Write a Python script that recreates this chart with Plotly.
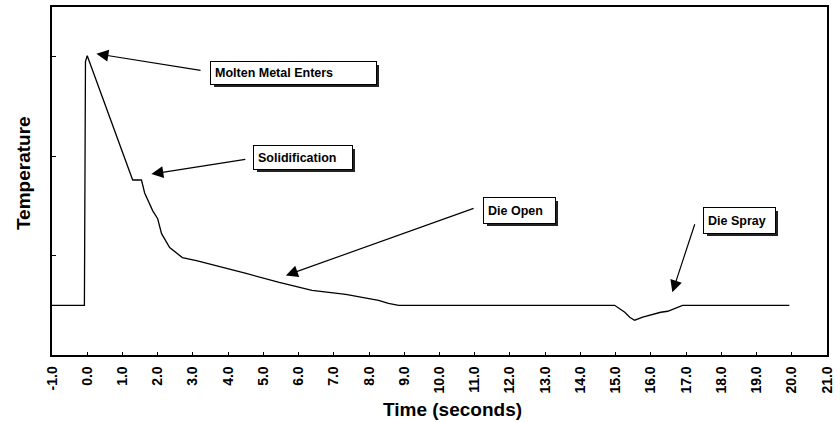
import glob
import plotly.graph_objects as go

# ---- data ----
time_s = [-1.0, -0.08, -0.05, 0.0, 1.29, 1.54, 1.63, 1.78, 1.86, 2.0, 2.11, 2.34, 2.70, 3.10,
          3.67, 4.51, 5.45, 6.38, 7.34, 8.27, 8.55, 8.84, 14.97, 15.26, 15.4, 15.54, 15.77,
          16.28, 16.48, 16.9, 19.93]
temperature = [0.5, 0.5, 2.95, 3.01, 1.76, 1.76, 1.63, 1.52, 1.45, 1.37, 1.22, 1.08, 0.98, 0.95,
               0.90, 0.82, 0.73, 0.65, 0.61, 0.55, 0.52, 0.50, 0.50, 0.43, 0.38, 0.35, 0.38,
               0.43, 0.44, 0.50, 0.50]

x_ticks = [-1.0 + i for i in range(23)]
y_ticks = [0, 1, 2, 3]

labels = ["Molten Metal Enters", "Solidification", "Die Open", "Die Spray"]
head_x = [0.26, 1.82, 5.64, 16.61]
head_y = [3.03, 1.82, 0.80, 0.63]
tail_x = [3.26, 4.53, 11.01, 17.26]
tail_y = [2.86, 1.97, 1.48, 1.33]
box_x = [5.85, 6.12, 12.27, 18.52]
box_y = [2.84, 1.985, 1.455, 1.355]
box_w = [165, 98, 71, 71]
box_h = [22, 23, 25, 25]

FONT = "Liberation Sans, Arial, sans-serif"
narrow = any(glob.glob(p, recursive=True) for p in
             ["/usr/share/fonts/**/LiberationSansNarrow-Bold*.ttf",
              "/usr/local/share/fonts/**/LiberationSansNarrow-Bold*.ttf"])
if narrow:
    NFONT, tick_size, ann_size = "Liberation Sans Narrow", 16, 13
else:
    NFONT, tick_size, ann_size = FONT, 14, 12.5

fig = go.Figure()
fig.add_trace(go.Scatter(x=time_s, y=temperature, mode="lines",
                         line=dict(color="black", width=1.3), hoverinfo="skip",
                         showlegend=False))

annotations = []
for i, t in enumerate(labels):
    annotations.append(dict(x=head_x[i], y=head_y[i], xref="x", yref="y",
                            ax=tail_x[i], ay=tail_y[i], axref="x", ayref="y",
                            text="", showarrow=True, arrowhead=2, arrowsize=2.0,
                            arrowwidth=1.2, arrowcolor="black", standoff=0, startstandoff=0))
    annotations.append(dict(x=box_x[i], y=box_y[i], xref="x", yref="y", text=" ",
                            showarrow=False, width=box_w[i] - 8, height=box_h[i] - 8,
                            borderpad=4, borderwidth=0, bgcolor="#222222",
                            xshift=3, yshift=-3, font=dict(size=ann_size, family=NFONT)))
    annotations.append(dict(x=box_x[i], y=box_y[i], xref="x", yref="y", text="<b>" + t + "</b>",
                            showarrow=False, width=box_w[i] - 8, height=box_h[i] - 8,
                            borderpad=4, borderwidth=1, bordercolor="black", bgcolor="white",
                            align="left", valign="middle",
                            font=dict(size=ann_size, family=NFONT, color="black")))

annotations.append(dict(x=0.517, y=-0.157, xref="paper", yref="paper",
                        xanchor="center", yanchor="middle",
                        text="<b>Time (seconds)</b>", showarrow=False,
                        font=dict(size=19, family=FONT, color="black")))
annotations.append(dict(x=-0.036, y=0.523, xref="paper", yref="paper",
                        xanchor="center", yanchor="middle",
                        text="<b>Temperature</b>", showarrow=False, textangle=-90,
                        font=dict(size=19, family=FONT, color="black")))

fig.update_layout(
    width=840, height=422,
    margin=dict(l=52, r=10, t=5, b=67),
    paper_bgcolor="white", plot_bgcolor="white",
    annotations=annotations,
    showlegend=False,
)
fig.update_xaxes(range=[-1, 21], tickvals=x_ticks, ticktext=[f"{v:.1f}" for v in x_ticks],
                 tickangle=-90, ticks="inside", ticklen=3, tickcolor="black",
                 showgrid=False, zeroline=False, showline=True, linecolor="black",
                 linewidth=1.5, mirror=True,
                 tickfont=dict(size=tick_size, family=NFONT, color="black", weight="bold"),
                 ticklabelstandoff=4)
fig.update_yaxes(range=[0, 3.5], tickvals=y_ticks, showticklabels=False,
                 ticks="inside", ticklen=4, tickcolor="black",
                 showgrid=False, zeroline=False, showline=True, linecolor="black",
                 linewidth=1.5, mirror=True)

fig.write_html("out.html", config={"displayModeBar": False},
               post_script="document.body.style.margin='0';")
